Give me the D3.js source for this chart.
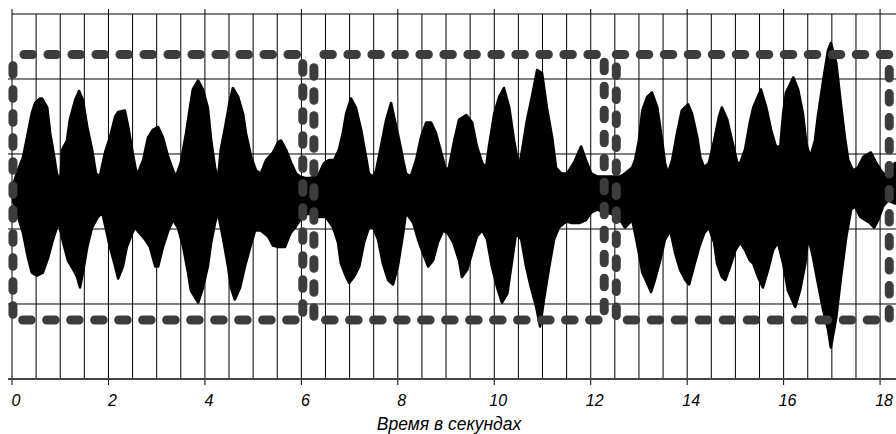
<!DOCTYPE html>
<html><head><meta charset="utf-8">
<script src="https://cdn.jsdelivr.net/npm/d3@7"></script>
<style>
html,body{margin:0;padding:0;background:#fff;}
svg{display:block;}
text{font-family:"Liberation Sans",Arial,sans-serif;font-style:italic;fill:#000;}
</style></head>
<body>
<svg id="chart" width="896" height="434"></svg>
<script>
// ---- data ----
const topTimes = [0.02,0.10,0.23,0.33,0.41,0.48,0.58,0.62,0.73,0.79,0.85,0.93,1.00,1.04,1.14,1.20,1.31,1.39,1.47,1.56,1.66,1.74,1.82,1.93,2.03,2.14,2.20,2.34,2.41,2.49,2.57,2.61,2.72,2.82,2.92,3.03,3.13,3.24,3.34,3.40,3.50,3.61,3.69,3.75,3.86,3.96,4.06,4.13,4.21,4.27,4.33,4.42,4.52,4.58,4.69,4.79,4.85,4.96,5.06,5.16,5.27,5.41,5.52,5.58,5.68,5.79,5.89,5.97,6.08,6.18,6.28,6.37,6.47,6.57,6.68,6.78,6.86,6.93,7.03,7.13,7.24,7.34,7.40,7.49,7.55,7.65,7.76,7.86,7.92,8.03,8.11,8.17,8.27,8.38,8.48,8.59,8.69,8.79,8.90,9.00,9.06,9.17,9.27,9.42,9.54,9.64,9.75,9.83,9.89,10.00,10.10,10.20,10.31,10.41,10.51,10.58,10.68,10.78,10.89,10.99,11.09,11.20,11.28,11.39,11.51,11.65,11.80,11.90,12.01,12.13,12.30,12.44,12.61,12.71,12.86,12.92,13.00,13.07,13.17,13.27,13.38,13.48,13.54,13.60,13.69,13.79,13.89,14.02,14.10,14.21,14.27,14.35,14.45,14.56,14.66,14.72,14.83,14.93,15.04,15.10,15.20,15.30,15.37,15.53,15.64,15.74,15.84,15.93,15.99,16.05,16.20,16.30,16.40,16.47,16.55,16.65,16.71,16.82,16.92,16.98,17.09,17.17,17.27,17.34,17.44,17.54,17.65,17.81,17.92,18.02,18.13,18.31];
const topAmp = [0.04,0.12,0.23,0.39,0.52,0.59,0.62,0.62,0.56,0.39,0.28,0.12,0.06,0.28,0.34,0.48,0.61,0.67,0.61,0.43,0.28,0.12,0.10,0.26,0.36,0.50,0.53,0.54,0.43,0.28,0.14,0.12,0.21,0.36,0.41,0.43,0.36,0.23,0.14,0.10,0.19,0.39,0.56,0.68,0.74,0.68,0.56,0.34,0.16,0.08,0.28,0.43,0.61,0.69,0.63,0.52,0.39,0.23,0.14,0.12,0.21,0.26,0.33,0.34,0.28,0.19,0.12,0.10,0.09,0.09,0.10,0.12,0.19,0.21,0.21,0.28,0.39,0.52,0.62,0.56,0.41,0.23,0.12,0.10,0.14,0.30,0.48,0.59,0.50,0.34,0.21,0.12,0.10,0.21,0.36,0.46,0.46,0.39,0.26,0.14,0.16,0.34,0.48,0.51,0.46,0.30,0.19,0.16,0.30,0.52,0.63,0.69,0.56,0.34,0.16,0.28,0.48,0.63,0.81,0.79,0.56,0.36,0.16,0.12,0.12,0.19,0.30,0.21,0.12,0.10,0.10,0.10,0.10,0.12,0.16,0.21,0.34,0.54,0.63,0.66,0.56,0.34,0.19,0.12,0.21,0.39,0.54,0.58,0.52,0.36,0.23,0.16,0.19,0.34,0.50,0.56,0.48,0.34,0.19,0.19,0.28,0.46,0.56,0.68,0.56,0.41,0.30,0.30,0.52,0.66,0.76,0.68,0.52,0.32,0.23,0.34,0.50,0.74,0.94,0.99,0.86,0.63,0.36,0.21,0.14,0.16,0.23,0.26,0.19,0.14,0.10,0.19];
const bottomTimes = [0.02,0.10,0.23,0.33,0.41,0.52,0.64,0.75,0.85,0.93,0.97,1.06,1.16,1.27,1.35,1.41,1.47,1.56,1.66,1.78,1.87,1.97,2.03,2.14,2.20,2.30,2.38,2.49,2.55,2.65,2.76,2.86,2.97,3.03,3.13,3.24,3.34,3.44,3.55,3.65,3.71,3.86,3.96,4.06,4.13,4.21,4.27,4.38,4.48,4.54,4.62,4.73,4.83,4.94,5.04,5.16,5.31,5.41,5.52,5.66,5.77,5.87,5.97,6.08,6.22,6.37,6.51,6.66,6.76,6.82,6.93,6.99,7.09,7.20,7.30,7.40,7.49,7.59,7.69,7.80,7.90,8.00,8.11,8.17,8.32,8.42,8.52,8.63,8.73,8.83,8.94,9.04,9.15,9.27,9.33,9.44,9.54,9.64,9.75,9.85,9.95,10.06,10.16,10.27,10.37,10.45,10.56,10.66,10.76,10.87,10.95,11.03,11.14,11.24,11.34,11.49,11.61,11.76,11.90,12.01,12.13,12.30,12.44,12.61,12.71,12.86,12.92,13.00,13.07,13.17,13.25,13.33,13.44,13.54,13.65,13.75,13.85,13.96,14.04,14.14,14.25,14.35,14.45,14.56,14.62,14.72,14.79,14.89,15.00,15.10,15.20,15.30,15.37,15.47,15.57,15.68,15.78,15.88,15.99,16.09,16.24,16.34,16.45,16.51,16.61,16.71,16.82,16.92,16.98,17.09,17.19,17.30,17.40,17.48,17.59,17.69,17.79,17.88,17.96,18.06,18.17,18.31];
const bottomAmp = [-0.06,-0.14,-0.28,-0.44,-0.54,-0.56,-0.54,-0.44,-0.32,-0.24,-0.21,-0.34,-0.46,-0.52,-0.57,-0.64,-0.54,-0.37,-0.24,-0.17,-0.14,-0.28,-0.37,-0.50,-0.58,-0.50,-0.37,-0.28,-0.24,-0.28,-0.32,-0.37,-0.50,-0.50,-0.37,-0.26,-0.19,-0.24,-0.37,-0.54,-0.66,-0.74,-0.64,-0.50,-0.34,-0.21,-0.14,-0.32,-0.50,-0.64,-0.72,-0.64,-0.50,-0.37,-0.26,-0.26,-0.30,-0.36,-0.37,-0.37,-0.28,-0.24,-0.19,-0.15,-0.15,-0.17,-0.17,-0.24,-0.34,-0.48,-0.57,-0.61,-0.57,-0.50,-0.34,-0.24,-0.24,-0.32,-0.48,-0.59,-0.62,-0.50,-0.28,-0.14,-0.21,-0.32,-0.41,-0.50,-0.46,-0.34,-0.26,-0.28,-0.34,-0.46,-0.57,-0.52,-0.41,-0.30,-0.26,-0.32,-0.50,-0.64,-0.74,-0.68,-0.46,-0.28,-0.32,-0.50,-0.64,-0.77,-0.90,-0.72,-0.50,-0.32,-0.24,-0.20,-0.21,-0.21,-0.19,-0.14,-0.12,-0.14,-0.15,-0.19,-0.24,-0.19,-0.28,-0.41,-0.54,-0.61,-0.67,-0.59,-0.46,-0.32,-0.26,-0.41,-0.52,-0.59,-0.62,-0.50,-0.37,-0.28,-0.24,-0.34,-0.48,-0.57,-0.59,-0.50,-0.39,-0.34,-0.39,-0.46,-0.48,-0.57,-0.64,-0.52,-0.39,-0.34,-0.48,-0.66,-0.77,-0.66,-0.48,-0.30,-0.44,-0.61,-0.79,-0.92,-1.04,-0.84,-0.57,-0.30,-0.12,-0.10,-0.17,-0.19,-0.21,-0.24,-0.19,-0.10,-0.06,-0.08];
const xTicks = [0,2,4,6,8,10,12,14,16,18];
const xTickLabels = ["0","2","4","6","8","10","12","14","16","18"];
const xGrid = d3.range(0, 18.01, 0.5);
const yGrid = [-1.25,-0.75,-0.25,0.25,0.75];
const boxStart = [0.02, 6.26, 12.53];
const boxEnd = [6.03, 12.28, 18.19];
const boxTop = 0.913, boxBottom = -0.857;
const xTitle = "Время в секундах";

// ---- drawing ----
const svg = d3.select("#chart");
const x = d3.scaleLinear().domain([0, 18.33]).range([12, 896]);
const y = d3.scaleLinear().domain([-1.25, 1.1833]).range([379, 14]);

// vertical grid
svg.append("g").selectAll("line").data(xGrid).join("line")
  .attr("x1", d => x(d)).attr("x2", d => x(d))
  .attr("y1", d => xTicks.includes(d) ? y(1.1833) - 5 : y(1.1833))
  .attr("y2", d => xTicks.includes(d) ? y(-1.25) + 6 : y(-1.25))
  .attr("stroke", "#000").attr("stroke-width", 1);

// horizontal grid
svg.append("g").selectAll("line").data(yGrid.slice(1)).join("line")
  .attr("x1", 8).attr("x2", 896)
  .attr("y1", d => y(d)).attr("y2", d => y(d))
  .attr("stroke", "#000").attr("stroke-width", 1);
svg.append("line").attr("x1", x(0)).attr("x2", 896)
  .attr("y1", y(1.1833)).attr("y2", y(1.1833))
  .attr("stroke", "#000").attr("stroke-width", 1);
svg.append("line").attr("x1", 8).attr("x2", 896)
  .attr("y1", y(-1.25)).attr("y2", y(-1.25))
  .attr("stroke", "#444").attr("stroke-width", 2.2);

// waveform envelope
const pts = topTimes.map((t, i) => [t, topAmp[i]])
  .concat(bottomTimes.map((t, i) => [t, bottomAmp[i]]).reverse());
const line = d3.line().x(d => x(d[0])).y(d => y(d[1])).curve(d3.curveLinear);
svg.append("path").attr("d", line(pts) + "Z")
  .attr("fill", "#000").attr("stroke", "#000").attr("stroke-width", 2.6)
  .attr("stroke-linejoin", "round");

// dashed boxes
const offsets = [13, 14, 0];
boxStart.forEach((b, i) => {
  const x0 = x(b), x1 = x(boxEnd[i]), y0 = y(boxTop), y1 = y(boxBottom);
  svg.append("path")
    .attr("d", `M${x0},${y0}H${x1}V${y1}H${x0}Z`)
    .attr("fill", "none").attr("stroke", "#3c3c3c").attr("stroke-width", 9)
    .attr("stroke-linecap", "round").attr("stroke-dasharray", "8.5,15.5")
    .attr("stroke-dashoffset", offsets[i]);
});

// tick labels
svg.append("g").selectAll("text").data(xTicks).join("text")
  .attr("x", d => x(d) + 4).attr("y", 406)
  .attr("text-anchor", "middle").attr("font-size", 16)
  .text((d, i) => xTickLabels[i]);

svg.append("text").attr("x", 449).attr("y", 430)
  .attr("text-anchor", "middle").attr("font-size", 17.5).text(xTitle);
</script>
</body></html>
